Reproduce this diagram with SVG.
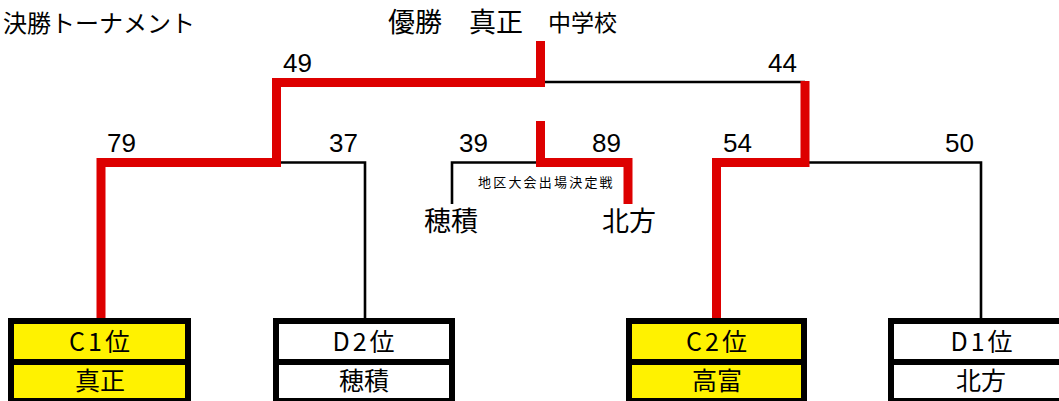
<svg xmlns="http://www.w3.org/2000/svg" width="1059" height="401" viewBox="0 0 1059 401">
<style>
text{font-family:"Noto Sans CJK JP","Liberation Sans",sans-serif;fill:#000}
.red{fill:none;stroke:#DD0000;stroke-width:9;stroke-linejoin:miter}
.blk{fill:none;stroke:#000;stroke-width:2.6}
.box{stroke:#000;stroke-width:6}
.win{fill:#FFF200}
.lose{fill:#FFFFFF}
.num{font-family:"Liberation Sans","Noto Sans CJK JP",sans-serif;font-size:26px}
.cell{font-size:25px;text-anchor:middle}
.team{font-size:27px}
</style>
<rect width="1059" height="401" fill="#fff"/>
<g id="title">
<text x="3" y="32" font-size="24">決勝トーナメント</text>
<text x="388" y="32" font-size="27">優勝　真正</text>
<text x="548" y="31" font-size="23">中学校</text>
</g>
<g id="connectors">
<path class="blk" d="M545 82 H805"/>
<path class="blk" d="M281 162.5 H365 V318"/>
<path class="blk" d="M452 204 V162.5 H540"/>
<path class="blk" d="M809 162.5 H981 V318"/>
<path class="red" d="M540.5 41 V82.5 H276.5 V162.5 H101 V318"/>
<path class="red" d="M805 81 V162.5 H716.5 V318"/>
<path class="red" d="M540.5 121 V162.5 H628 V204"/>
</g>
<g id="scores">
<text class="num" x="283" y="72">49</text>
<text class="num" x="768" y="72">44</text>
<text class="num" x="107" y="152">79</text>
<text class="num" x="329" y="152">37</text>
<text class="num" x="459" y="152">39</text>
<text class="num" x="592" y="152">89</text>
<text class="num" x="723" y="152">54</text>
<text class="num" x="945" y="152">50</text>
</g>
<g id="playoff">
<text x="478" y="187" font-size="13" letter-spacing="2.2">地区大会出場決定戦</text>
<text class="team" x="424" y="231">穂積</text>
<text class="team" x="602" y="231">北方</text>
</g>
<g id="node-c1">
<rect class="box win" x="11" y="321" width="177" height="80"/>
<line class="box" x1="8" y1="362" x2="191" y2="362"/>
<text class="cell" x="101" y="351" letter-spacing="3">C1位</text>
<text class="cell" x="100" y="390">真正</text>
</g>
<g id="node-d2">
<rect class="box lose" x="276" y="321" width="176" height="80"/>
<line class="box" x1="273" y1="362" x2="455" y2="362"/>
<text class="cell" x="365" y="351" letter-spacing="3">D2位</text>
<text class="cell" x="364" y="390">穂積</text>
</g>
<g id="node-c2">
<rect class="box win" x="629" y="321" width="175" height="80"/>
<line class="box" x1="626" y1="362" x2="807" y2="362"/>
<text class="cell" x="718" y="351" letter-spacing="3">C2位</text>
<text class="cell" x="717" y="390">高富</text>
</g>
<g id="node-d1">
<rect class="box lose" x="891" y="321" width="176" height="80"/>
<line class="box" x1="888" y1="362" x2="1070" y2="362"/>
<text class="cell" x="983" y="351" letter-spacing="3">D1位</text>
<text class="cell" x="981" y="390">北方</text>
</g>
</svg>
